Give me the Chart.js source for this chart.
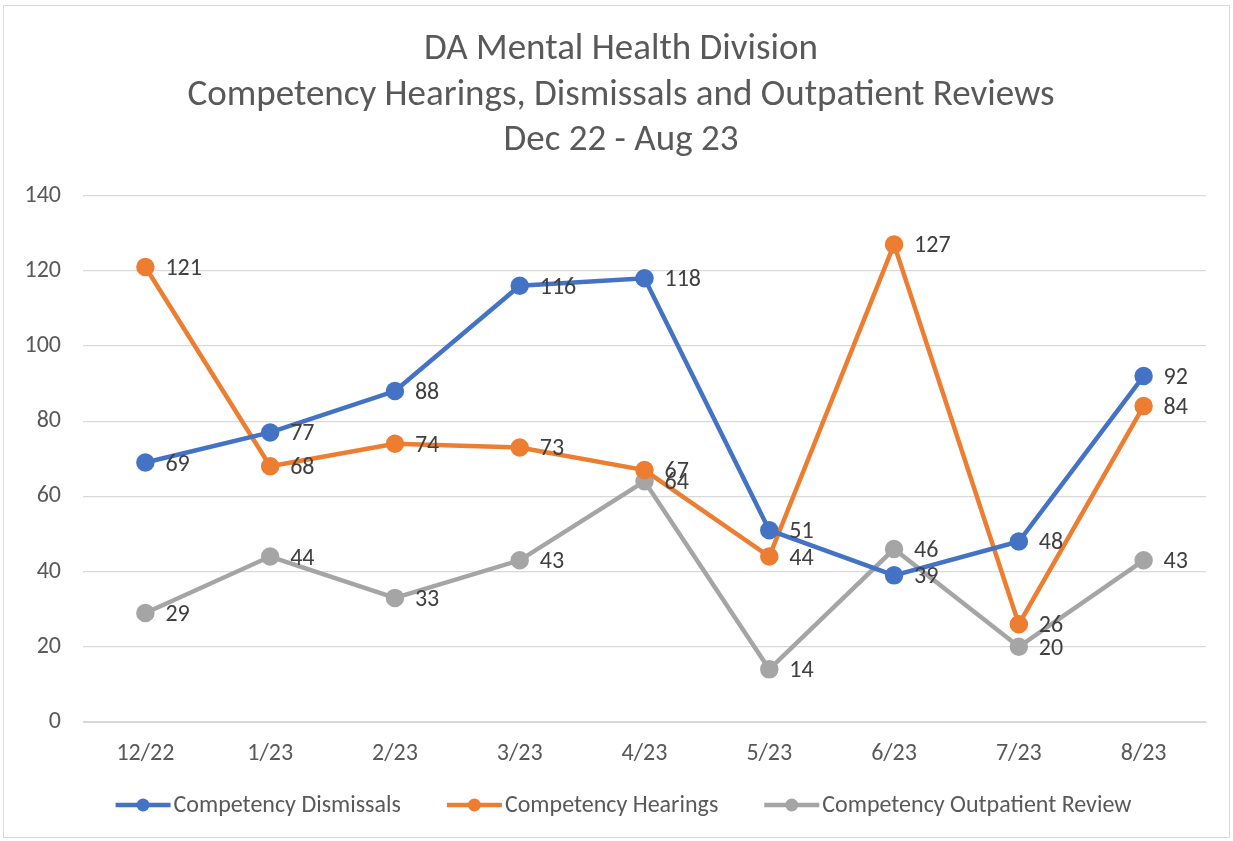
<!DOCTYPE html>
<html>
<head>
<meta charset="utf-8">
<script src="https://cdn.jsdelivr.net/npm/chart.js@4/dist/chart.umd.min.js"></script>
<style>
  html, body { margin: 0; padding: 0; background: #fff; }
  #wrap { width: 1233px; height: 841px; }
</style>
</head>
<body>
<div id="wrap"><canvas id="chart"></canvas></div>
<script>
const months = ["12/22", "1/23", "2/23", "3/23", "4/23", "5/23", "6/23", "7/23", "8/23"];
const dismissals = [69, 77, 88, 116, 118, 51, 39, 48, 92];
const hearings = [121, 68, 74, 73, 67, 44, 127, 26, 84];
const outpatient = [29, 44, 33, 43, 64, 14, 46, 20, 43];
const titleLines = ["DA Mental Health Division", "Competency Hearings, Dismissals and Outpatient Reviews", "Dec 22 - Aug 23"];

const FONT = 'Calibri, Carlito, "Liberation Sans", sans-serif';
const TXT = "#595959";

// value labels to the right of each point
const pointLabels = {
  id: "pointLabels",
  afterDatasetsDraw(chart) {
    let ctx = chart.ctx;
    ctx.save();
    ctx.font = "24px " + FONT;
    ctx.fillStyle = "#404040";
    ctx.textAlign = "left";
    ctx.textBaseline = "middle";
    chart.data.datasets.forEach((ds, i) => {
      chart.getDatasetMeta(i).data.forEach((pt, j) => {
        ctx.fillText(ds.data[j], pt.x + 20, pt.y + 2);
      });
    });
    ctx.restore();
  }
};

// frame, centred title and legend with line and marker
const frameLegend = {
  id: "frameLegend",
  beforeDraw(chart) {
    let ctx = chart.ctx;
    ctx.save();
    ctx.strokeStyle = "#d9d9d9";
    ctx.lineWidth = 1;
    ctx.strokeRect(3.5, 5.5, 1226, 832);
    ctx.restore();
  },
  afterDraw(chart) {
    let ctx = chart.ctx;
    ctx.save();
    // title (the built-in one only keeps the space)
    ctx.font = "37px " + FONT;
    ctx.fillStyle = TXT;
    ctx.textAlign = "center";
    ctx.textBaseline = "middle";
    titleLines.forEach((t, i) => ctx.fillText(t, 621, 50 + i * 45.5));

    ctx.font = "24px " + FONT;
    let y = 805, lineLen = 55, gap = 45;
    let items = chart.data.datasets.map(ds => ({ ds: ds, w: lineLen + 4 + ctx.measureText(ds.label).width }));
    let total = items.reduce((a, it) => a + it.w, 0) + gap * (items.length - 1);
    let x = 624 - total / 2;
    items.forEach(it => {
      ctx.strokeStyle = it.ds.borderColor;
      ctx.lineWidth = 4.5;
      ctx.beginPath();
      ctx.moveTo(x, y);
      ctx.lineTo(x + lineLen, y);
      ctx.stroke();
      ctx.fillStyle = it.ds.borderColor;
      ctx.beginPath();
      ctx.arc(x + lineLen / 2, y, 6.5, 0, Math.PI * 2);
      ctx.fill();
      ctx.fillStyle = TXT;
      ctx.textAlign = "left";
      ctx.fillText(it.ds.label, x + lineLen + 3, y + 1);
      x += it.w + gap;
    });
    ctx.restore();
  }
};

function series(label, data, color) {
  return {
    label: label,
    data: data,
    borderColor: color,
    backgroundColor: color,
    borderWidth: 4.5,
    pointRadius: 7,
    pointHoverRadius: 7,
    tension: 0
  };
}

new Chart(document.getElementById("chart"), {
  type: "line",
  data: {
    labels: months,
    datasets: [
      series("Competency Dismissals", dismissals, "#4472C4"),
      series("Competency Hearings", hearings, "#ED7D31"),
      series("Competency Outpatient Review", outpatient, "#A5A5A5")
    ]
  },
  options: {
    responsive: true,
    maintainAspectRatio: false,
    animation: false,
    layout: { padding: { top: 27, right: 27, left: 0, bottom: 0 } },
    plugins: {
      legend: { display: false },
      tooltip: { enabled: false },
      title: {
        display: true,
        text: titleLines,
        color: "rgba(0,0,0,0)",
        font: { family: FONT, size: 37, weight: "normal", lineHeight: 1.23 },
        padding: { top: 0, bottom: 32 }
      }
    },
    scales: {
      x: {
        offset: true,
        grid: { display: false, drawTicks: false },
        border: { display: true, color: "#d9d9d9", width: 1 },
        ticks: { color: TXT, font: { family: FONT, size: 24 }, padding: 18, maxRotation: 0 },
        afterFit(s) { s.height = 119; }
      },
      y: {
        min: 0,
        max: 140,
        grid: { color: "#d9d9d9", lineWidth: 1.2, drawTicks: false },
        border: { display: false },
        ticks: { stepSize: 20, color: TXT, font: { family: FONT, size: 24 }, padding: 22 },
        afterFit(s) { s.width = 83; }
      }
    }
  },
  plugins: [pointLabels, frameLegend]
});
</script>
</body>
</html>
